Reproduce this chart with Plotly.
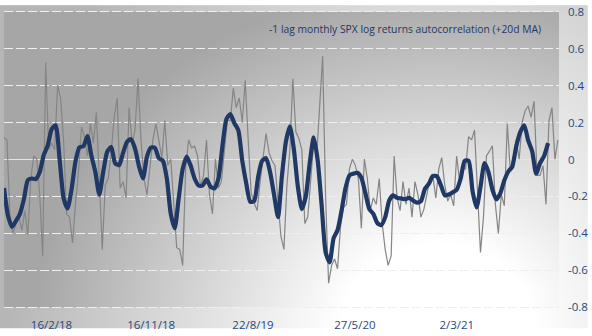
import zlib, struct, base64
import numpy as np
import pandas as pd
import plotly.graph_objects as go

# ---------------- data ----------------
ma_start, ma_end = "2017-10-09", "2021-11-07"
raw_start, raw_end = "2017-10-09", "2021-12-04"

ma_values = [
    -0.155, -0.304, -0.365, -0.333, -0.295, -0.216, -0.112, -0.103, -0.106, -0.068,
    0.024, 0.075, 0.164, 0.185, 0.002, -0.209, -0.265, -0.164, -0.010, 0.066,
    0.072, 0.127, 0.021, -0.068, -0.190, -0.065, 0.042, 0.068, -0.021, -0.031,
    0.037, 0.096, 0.110, 0.059, -0.037, -0.103,
    0.016, 0.065, 0.063, 0.007, -0.007, -0.103, -0.295, -0.373, -0.208, -0.051,
    0.016, -0.033, -0.103, -0.141, -0.141, -0.108, -0.147, -0.157, -0.103, 0.072,
    0.218, 0.246, 0.197, 0.159, -0.007, -0.129, -0.229, -0.225, -0.094, -0.007,
    0.007, -0.068, -0.190, -0.312, -0.086,
    0.098, 0.180, 0.054, -0.147, -0.269, -0.199, -0.016, 0.120, -0.007, -0.251,
    -0.504, -0.557, -0.426, -0.382, -0.277, -0.155, -0.086, -0.077, -0.072, -0.099,
    -0.182, -0.269, -0.295, -0.344, -0.356, -0.312, -0.222, -0.194, -0.208, -0.211,
    -0.215, -0.208, -0.222, -0.234, -0.225,
    -0.159, -0.131, -0.089, -0.091, -0.138, -0.194, -0.190, -0.178, -0.164, -0.103,
    -0.007, -0.007, -0.173, -0.260, -0.147, -0.019, -0.068, -0.164, -0.216, -0.182,
    -0.112, -0.065, -0.038, 0.072, 0.148, 0.185, 0.103, 0.045, -0.077, -0.019,
    0.019, 0.089,
]

raw_values = [
    0.120, 0.106, -0.312, -0.400, -0.347, -0.312, -0.382, -0.277, -0.408, -0.103,
    0.019, 0.002, -0.190, -0.522, 0.525, 0.054, 0.089, 0.054, 0.403, 0.333,
    0.106, -0.295, -0.312, -0.452, -0.243, -0.068, 0.176, 0.124, 0.019, 0.194,
    0.089, 0.255, -0.103, -0.487, -0.138, -0.103, 0.037, 0.229, 0.333, -0.155,
    -0.120, -0.208, 0.281, 0.089, 0.159, 0.438, 0.106,
    -0.103, -0.190, -0.051, 0.106, 0.194, 0.106, 0.010, 0.211, -0.033, 0.002,
    -0.243, -0.478, -0.487, -0.574, -0.051, 0.106, 0.063, 0.072, 0.019, -0.147,
    -0.086, 0.106, -0.190, -0.295, 0.002, -0.155, -0.120, 0.037, 0.211, 0.211,
    0.386, 0.281, 0.333, 0.202, 0.429, 0.106, -0.182, -0.234, -0.277, -0.120,
    0.002, 0.141, 0.037, -0.007, -0.033, -0.208, -0.417,
    -0.487, -0.138, 0.054, 0.438, 0.150, 0.115, 0.054, -0.347, -0.312, -0.103,
    0.089, 0.019, 0.316, 0.560, -0.208, -0.670, -0.574, -0.539, -0.592, -0.365,
    -0.260, -0.243, -0.051, 0.002, -0.033, -0.103, -0.373, 0.002, -0.103, -0.277,
    -0.208, -0.243, -0.103, -0.347, -0.487, -0.574, -0.522, 0.019, -0.208, -0.277,
    -0.120, -0.243, -0.155, -0.312, -0.120, -0.190, -0.312,
    -0.269, -0.190, -0.103, -0.086, -0.208, -0.051, 0.010, -0.138, -0.225, -0.190,
    -0.251, 0.019, -0.120, -0.051, -0.051, 0.124, 0.106, 0.159, -0.190, -0.504,
    -0.312, 0.019, 0.045, 0.075, -0.243, -0.400, -0.190, -0.251, 0.194, -0.059,
    0.010, 0.106, 0.002, 0.202, 0.264, 0.290, 0.229, 0.316, -0.086, -0.086,
    -0.033, -0.243, 0.211, 0.281, 0.002, 0.106,
]

tick_dates = ["2018-02-16", "2018-11-16", "2019-08-22", "2020-05-27", "2021-03-02"]
tick_labels = ["16/2/18", "16/11/18", "22/8/19", "27/5/20", "2/3/21"]
y_ticks = [0.8, 0.6, 0.4, 0.2, 0.0, -0.2, -0.4, -0.6, -0.8]
y_labels = ["0.8", "0.6", "0.4", "0.2", "0", "-0.2", "-0.4", "-0.6", "-0.8"]
title_text = "-1 lag monthly SPX log returns autocorrelation (+20d MA)"

ma_dates = pd.date_range(ma_start, ma_end, periods=len(ma_values))
raw_dates = pd.date_range(raw_start, raw_end, periods=len(raw_values))

# ---------------- layout geometry ----------------
W, H = 592, 336
ML, MR, MT, MB = 4, 29, 5, 20
PW, PH = W - ML - MR, H - MT - MB
# visible (shaded) plot box
BX0, BX1, BY0, BY1 = 4, 563, 7, 314

# ---------------- background gradient (decoration) ----------------
def make_png(gray):
    h, w = gray.shape
    img = np.repeat(gray[:, :, None], 3, axis=2).astype(np.uint8)
    raw = b"".join(b"\x00" + img[i].tobytes() for i in range(h))
    def chunk(t, d):
        c = struct.pack(">I", len(d)) + t + d
        return c + struct.pack(">I", zlib.crc32(t + d) & 0xFFFFFFFF)
    return (b"\x89PNG\r\n\x1a\n"
            + chunk(b"IHDR", struct.pack(">IIBBBBB", w, h, 8, 2, 0, 0, 0))
            + chunk(b"IDAT", zlib.compress(raw, 9))
            + chunk(b"IEND", b""))

yy, xx = np.mgrid[0:H, 0:W].astype(float)
cx, cy = 440.0, 330.0
d_in = np.sqrt((xx - cx) ** 2 + ((yy - cy) * 1.15) ** 2)
t_in = np.clip((d_in - 95) / 310.0, 0, 1)
g_in = 255 - t_in * (255 - 166)
d_out = np.sqrt((xx - cx) ** 2 + ((yy - cy) * 0.8) ** 2)
t_out = np.clip((d_out - 95) / 340.0, 0, 1)
g_out = 255 - t_out * (255 - 182)
inside = (xx >= BX0) & (xx < BX1) & (yy >= BY0) & (yy < BY1)
gray = np.where(inside, g_in, g_out)
png = make_png(np.round(gray))
src = "data:image/png;base64," + base64.b64encode(png).decode()

# ---------------- figure ----------------
fig = go.Figure()
fig.add_trace(go.Scatter(
    x=raw_dates, y=raw_values, mode="lines",
    line=dict(color="#858585", width=1.2), hoverinfo="skip", showlegend=False))
fig.add_trace(go.Scatter(
    x=ma_dates, y=ma_values, mode="lines",
    line=dict(color="#1f3864", width=4.2, shape="spline", smoothing=0.6),
    hoverinfo="skip", showlegend=False))

fig.add_layout_image(dict(
    source=src, xref="paper", yref="paper",
    x=-ML / PW, y=1 + MT / PH, sizex=W / PW, sizey=H / PH,
    xanchor="left", yanchor="top", sizing="stretch", layer="below"))

fig.add_annotation(
    text=title_text, xref="paper", yref="paper",
    x=(547 - ML) / PW, y=(H - MB - 25) / PH, xanchor="right", yanchor="middle",
    showarrow=False, font=dict(family="Open Sans", size=10.3, color="#1f3864"))

fig.update_layout(
    width=W, height=H,
    margin=dict(l=ML, r=MR, t=MT, b=MB, pad=0),
    paper_bgcolor="rgba(0,0,0,0)", plot_bgcolor="rgba(0,0,0,0)",
    font=dict(family="Open Sans", size=11, color="#1f497d"),
    showlegend=False,
)
fig.update_xaxes(
    type="date", range=["2017-10-09", "2021-12-07"],
    tickmode="array", tickvals=tick_dates, ticktext=tick_labels,
    showgrid=False, zeroline=False, showline=False, ticks="",
    tickfont=dict(size=11.5, color="#1f497d"), ticklabelstandoff=7,
    ticklabeloverflow="allow")
fig.update_yaxes(
    side="right", range=[-0.81, 0.81],
    tickmode="array", tickvals=y_ticks, ticktext=y_labels,
    showgrid=True, gridcolor="#efefef", gridwidth=1.2, griddash="9px,3px",
    zeroline=True, zerolinecolor="#e4e4e4", zerolinewidth=1.2,
    showline=False, ticks="", tickfont=dict(size=11.5, color="#1f497d"),
    ticklabelstandoff=8, ticklabeloverflow="allow")

fig.write_html("out.html")
